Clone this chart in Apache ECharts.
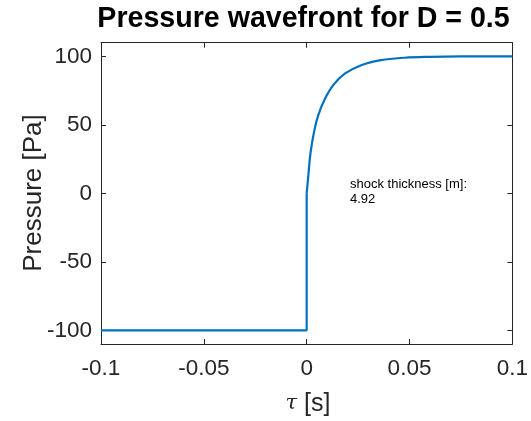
<!DOCTYPE html>
<html>
<head>
<meta charset="utf-8">
<script src="https://cdn.jsdelivr.net/npm/echarts@6/dist/echarts.min.js"></script>
<style>
html,body{margin:0;padding:0;background:#fff;}
#c{width:531px;height:421px;}
</style>
</head>
<body>
<div id="c"></div>
<script>
// Data
var tauStep = [-0.1, 0, 0];
var pStep = [-100, -100, 0];
var tauCurve = [0, 0.0008, 0.0019, 0.0036, 0.0056, 0.0089, 0.0129, 0.0185, 0.0265, 0.0362, 0.0475, 0.060, 0.075, 0.1];
var pCurve = [0, 13, 30, 45, 57, 69, 79, 87.4, 93.6, 97.3, 99.0, 99.7, 100, 100];
var xTicks = [-0.1, -0.05, 0, 0.05, 0.1];
var yTicks = [-100, -50, 0, 50, 100];
var titleText = 'Pressure wavefront for D = 0.5';
var xLabel = '{i|τ} [s]';
var yLabel = 'Pressure [Pa]';
var noteText = 'shock thickness [m]:\n4.92';

function zip(a, b) { return a.map(function (v, i) { return [v, b[i]]; }); }

var FONT = 'Liberation Sans';
var AX = '#262626';
var chart = echarts.init(document.getElementById('c'), null, { renderer: 'canvas' });

function xAx(pos, show) {
  return {
    type: 'value', position: pos, min: -0.1, max: 0.1,
    axisLine: { show: true, onZero: false, lineStyle: { color: AX, width: 1 } },
    axisTick: { show: true, inside: true, length: 5, customValues: xTicks, lineStyle: { color: AX } },
    axisLabel: { show: show, customValues: xTicks, color: AX, fontFamily: FONT, fontSize: 22.5, margin: 13,
      formatter: function (v) { return String(Math.round(v * 1000) / 1000); } },
    splitLine: { show: false }
  };
}
function yAx(pos, show) {
  return {
    type: 'value', position: pos, min: -110, max: 110,
    axisLine: { show: true, onZero: false, lineStyle: { color: AX, width: 1 } },
    axisTick: { show: true, inside: true, length: 5, customValues: yTicks, lineStyle: { color: AX } },
    axisLabel: { show: show, customValues: yTicks, color: AX, fontFamily: FONT, fontSize: 22.5, margin: 9 },
    splitLine: { show: false }
  };
}

chart.setOption({
  animation: false,
  backgroundColor: '#fff',
  grid: { left: 101, right: 15.5, top: 42.7, bottom: 77 },
  xAxis: [xAx('bottom', true), xAx('top', false)],
  yAxis: [yAx('left', true), yAx('right', false)],
  graphic: [
    { type: 'text', x: 303.5, y: 19,
      style: { text: titleText, fontFamily: FONT, fontWeight: 'bold', fontSize: 28.6, fill: '#000',
        align: 'center', verticalAlign: 'middle' } },
    { type: 'text', left: 350, top: 177,
      style: { text: noteText, fontFamily: FONT, fontSize: 13, lineHeight: 15, fill: '#000' } },
    { type: 'text', x: 308, y: 404,
      style: { text: xLabel, fontFamily: FONT, fontSize: 25, fill: AX, align: 'center', verticalAlign: 'middle',
        rich: { i: { fontFamily: 'DejaVu Serif', fontStyle: 'italic', fontSize: 21, fill: AX } } } },
    { type: 'text', x: 34, y: 193, rotation: Math.PI / 2,
      style: { text: yLabel, fontFamily: FONT, fontSize: 26, fill: AX, align: 'center', verticalAlign: 'middle' } }
  ],
  series: [
    { type: 'line', xAxisIndex: 0, yAxisIndex: 0, data: zip(tauStep, pStep), showSymbol: false,
      lineStyle: { color: '#0072BD', width: 2.2 }, silent: true },
    { type: 'line', xAxisIndex: 0, yAxisIndex: 0, data: zip(tauCurve, pCurve), showSymbol: false,
      smooth: 0.4,
      lineStyle: { color: '#0072BD', width: 2.2 }, silent: true }
  ]
});
</script>
</body>
</html>
